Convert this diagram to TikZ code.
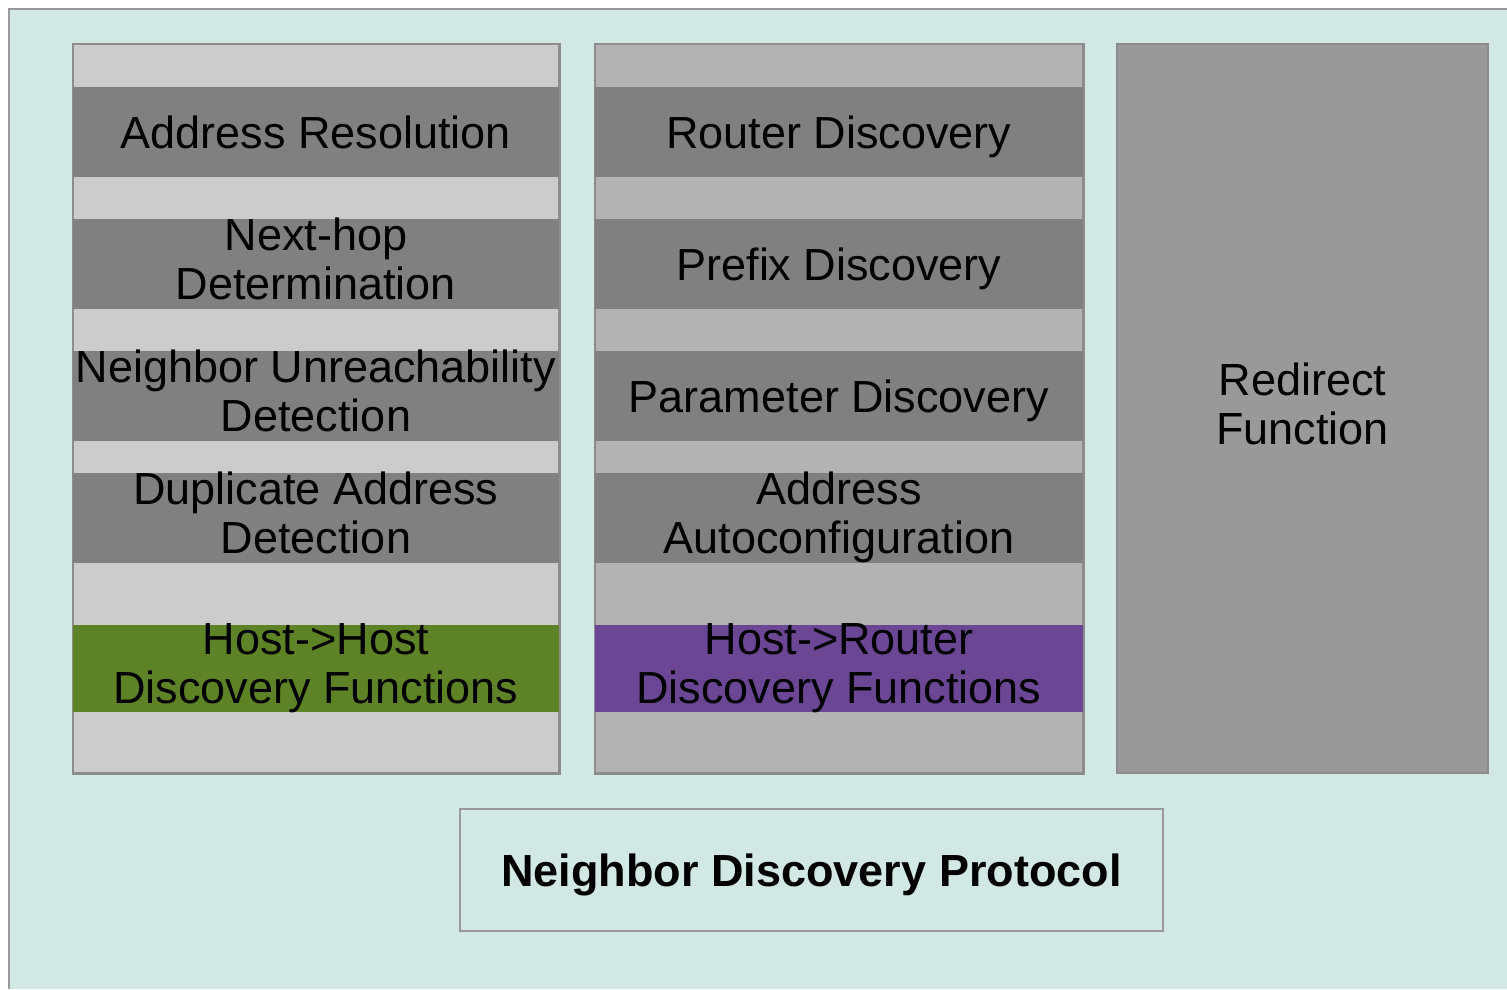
\documentclass[tikz,border=0pt]{standalone}
\usepackage{fontspec}
\setmainfont{Liberation Sans}
\definecolor{bgteal}{HTML}{D1E8E5}
\definecolor{collight}{HTML}{CCCCCC}
\definecolor{colmid}{HTML}{B3B3B3}
\definecolor{colright}{HTML}{999999}
\definecolor{banddark}{HTML}{808080}
\definecolor{bandgreen}{HTML}{5E8226}
\definecolor{bandpurple}{HTML}{6A4694}
\definecolor{edgegray}{HTML}{8C8C8C}
% fixed top and bottom of every label, whatever letters it holds
\newcommand{\labeltop}{\rule{0pt}{43pt}}
\newcommand{\labeltoptwo}{\rule{0pt}{52pt}}
\newcommand{\labelbottom}{\rule[-10pt]{0pt}{0pt}}
\tikzset{
  labelfont/.style={font=\fontsize{45}{49}\selectfont,
    execute at begin node=\labeltop, execute at end node=\labelbottom},
  twolines/.style={execute at begin node=\labeltoptwo, inner ysep=-12pt},
  column/.style={draw=edgegray, line width=1.5pt, inner sep=0pt, minimum height=729pt},
  band/.style={fill=banddark, inner xsep=0pt, inner ysep=-8pt, minimum height=90pt,
    align=center, labelfont, text=black},
  protobox/.style={draw=colright, line width=1.5pt, fill=bgteal, inner sep=0pt,
    minimum width=703pt, minimum height=122pt, labelfont, font=\fontsize{45}{49}\selectfont\bfseries}
}
\begin{document}
\begin{tikzpicture}[x=1pt,y=-1pt]
  \useasboundingbox (0,0) rectangle (1507,989);
  % page background and frame
  \fill[white] (0,0) rectangle (1507,989);
  \fill[bgteal] (9,9) rectangle (1507,989);
  \draw[colright, line width=1.5pt] (9,989) -- (9,9) -- (1507,9);

  % three columns
  \node[column, fill=collight, minimum width=486pt] (hostcol) at (316,408.5) {};
  \node[column, fill=colmid, minimum width=488pt] (routercol) at (839,408.5) {};
  \node[column, fill=colright, minimum width=371pt, align=center,
        labelfont, twolines, inner ysep=0pt] (redirect) at (1302.5,408.5) {Redirect\\Function};

  % host-to-host functions
  \node[band, minimum width=486pt] (ar)  at (316,132) {Address Resolution};
  \node[band, twolines, minimum width=486pt] (nhd) at (316,264) {Next-hop\\Determination};
  \node[band, twolines, minimum width=486pt] (nud) at (316,396) {Neighbor Unreachability\\Detection};
  \node[band, twolines, minimum width=486pt] (dad) at (316,518) {Duplicate Address\\Detection};
  \node[band, twolines, fill=bandgreen, minimum width=486pt, minimum height=87pt] (hh) at (316,668.5)
        {Host->Host\\Discovery Functions};

  % host-to-router functions
  \node[band, minimum width=488pt] (rd) at (839,132) {Router Discovery};
  \node[band, minimum width=488pt] (pd) at (839,264) {Prefix Discovery};
  \node[band, minimum width=488pt] (pmd) at (839,396) {Parameter Discovery};
  \node[band, twolines, minimum width=488pt] (aac) at (839,518) {Address\\Autoconfiguration};
  \node[band, twolines, fill=bandpurple, minimum width=488pt, minimum height=87pt] (hr) at (839,668.5)
        {Host->Router\\Discovery Functions};

  % redraw column outlines over the bands
  \draw[edgegray, line width=1.5pt] (hostcol.north west) rectangle (hostcol.south east);
  \draw[edgegray, line width=1.5pt] (routercol.north west) rectangle (routercol.south east);

  % protocol label
  \node[protobox] (ndp) at (811.5,870) {Neighbor Discovery Protocol};
\end{tikzpicture}
\end{document}
